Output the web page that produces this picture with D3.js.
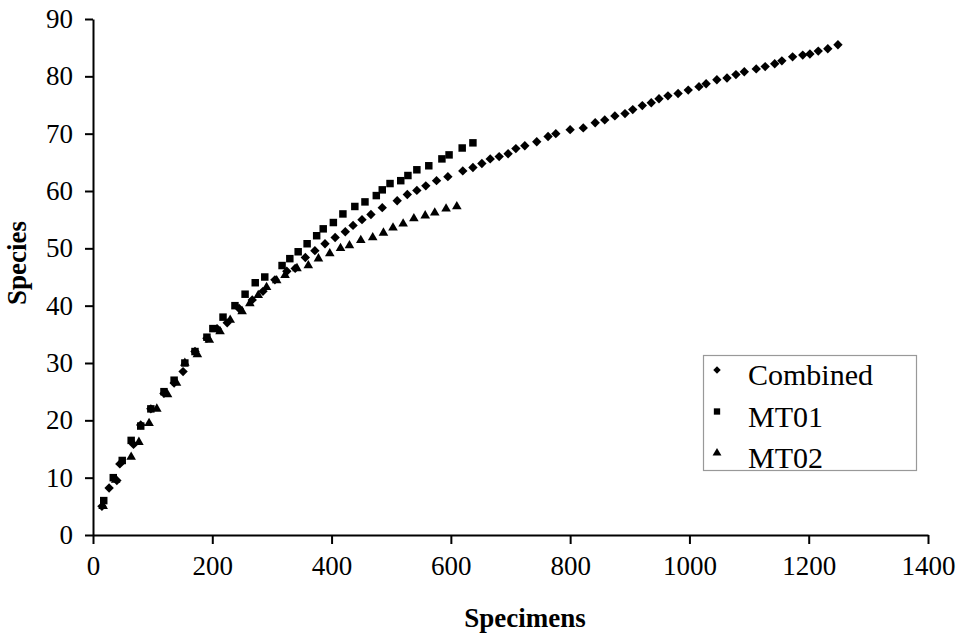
<!DOCTYPE html>
<html>
<head>
<meta charset="utf-8">
<script src="https://cdn.jsdelivr.net/npm/d3@7"></script>
<style>
  body { margin: 0; background: #fff; }
  svg { display: block; }
</style>
</head>
<body>
<svg width="963" height="636"></svg>
<script>
// data: [specimens, species]
let combined = [[15,5],[27,8.2],[40,9.5],[45,12.4],[68,15.8],[80,19.2],[97,22],[119,24.7],[136,26.5],[151,28.5],
  [171,32],[191,34.3],[208,36],[225,37],[245,39.5],[267,41],[285,42.5],[305,44.5],[325,46],[339,46.5],
  [356,48.4],[372,49.6],[389,50.8],[406,51.9],[423,52.9],[436,54],[451,55],[466,55.9],[485,57.1],[510,58.3],
  [527,59.4],[543,60.1],[558,60.9],[576,61.8],[595,62.5],[620,63.5],[637,64.1],[652,64.8],[666,65.6],[681,66],
  [696,66.5],[709,67.4],[724,67.9],[744,68.6],[763,69.5],[776,70],[800,70.7],[822,71],[842,71.9],[858,72.4],
  [875,73.1],[892,73.5],[905,74.2],[921,74.9],[936,75.4],[949,76.1],[964,76.6],[981,77],[998,77.6],[1016,78.2],
  [1028,78.7],[1046,79.4],[1063,79.7],[1078,80.3],[1092,80.8],[1112,81.3],[1127,81.7],[1143,82.2],[1155,82.7],
  [1173,83.4],[1190,83.7],[1202,83.9],[1216,84.4],[1232,84.8],[1249,85.5]];

let mt01 = [[18,6],[34,10],[49,13],[64,16.5],[80,19],[97,22],[119,25],[136,27],[154,30],[171,32],
  [191,34.5],[201,36],[218,38],[238,40],[255,42],[272,44],[288,45],[317,47],[330,48.2],[344,49.4],
  [359,50.8],[375,52.2],[386,53.4],[403,54.5],[419,56],[439,57.3],[456,58.1],[475,59.2],[485,60.2],[498,61.3],
  [516,61.8],[528,62.7],[543,63.7],[563,64.4],[585,65.6],[597,66.3],[619,67.5],[637,68.4]];

let mt02 = [[17,5],[38,9.6],[64,13.6],[77,16.2],[94,19.5],[107,22],[125,24.5],[140,26.5],[154,30],[175,31.5],
  [195,34],[213,35.5],[230,37.5],[250,39],[263,40.4],[277,41.8],[291,43.2],[308,44.4],[322,45.3],[342,46.5],
  [361,47],[378,48.2],[397,49.1],[415,50],[430,50.5],[449,51.4],[469,51.9],[487,52.7],[503,53.6],[520,54.3],
  [538,55.2],[557,55.7],[573,56.2],[592,56.9],[610,57.3]];

let xTicks = [0, 200, 400, 600, 800, 1000, 1200, 1400];
let yTicks = [0, 10, 20, 30, 40, 50, 60, 70, 80, 90];
let seriesNames = ["Combined", "MT01", "MT02"];

const serif = "'Liberation Serif', 'Tinos', 'Times New Roman', 'DejaVu Serif', serif";

let svg = d3.select("svg");

let x = d3.scaleLinear().domain([0, 1400]).range([93, 928]);
let y = d3.scaleLinear().domain([0, 90]).range([535, 19]);

let xAxis = svg.append("g")
    .attr("transform", "translate(0, 535)")
    .call(d3.axisBottom(x).tickValues(xTicks).tickSize(9).tickSizeOuter(0).tickPadding(12).tickFormat(d3.format("d")));

let yAxis = svg.append("g")
    .attr("transform", "translate(93, 0)")
    .call(d3.axisLeft(y).tickValues(yTicks).tickSize(8).tickSizeOuter(0).tickPadding(12));

[xAxis, yAxis].forEach(g => {
    g.attr("font-family", serif).attr("font-size", 27);
    g.selectAll("text").attr("fill", "#000");
    g.selectAll("path, line").attr("stroke", "#000").attr("stroke-width", 2);
});

svg.append("text")
    .attr("font-family", serif)
    .attr("font-size", 27)
    .attr("font-weight", "bold")
    .attr("text-anchor", "middle")
    .attr("transform", "translate(26, 263) rotate(-90)")
    .text("Species");

svg.append("text")
    .attr("font-family", serif)
    .attr("font-size", 27)
    .attr("font-weight", "bold")
    .attr("text-anchor", "middle")
    .attr("x", 525)
    .attr("y", 627)
    .text("Specimens");

let diamond = d3.symbol().type(d3.symbolSquare).size(44);
let square = d3.symbol().type(d3.symbolSquare).size(56);
let triangle = d3.symbol().type(d3.symbolTriangle).size(40);

function drawSeries(data, sym, rotate) {
    svg.append("g")
        .selectAll("path")
        .data(data)
        .enter()
        .append("path")
        .attr("d", sym)
        .attr("fill", "#000")
        .attr("transform", d => `translate(${x(d[0])}, ${y(d[1])})` + (rotate ? " rotate(45)" : ""));
}

drawSeries(mt02, triangle, false);
drawSeries(mt01, square, false);
drawSeries(combined, diamond, true);

// legend
let legend = svg.append("g")
    .attr("font-family", serif)
    .attr("font-size", 30);

legend.append("rect")
    .attr("x", 703.5).attr("y", 355.5)
    .attr("width", 213).attr("height", 115)
    .attr("fill", "#fff")
    .attr("stroke", "#999")
    .attr("stroke-width", 1.2);

let legendSyms = [
    d3.symbol().type(d3.symbolSquare).size(28),
    d3.symbol().type(d3.symbolSquare).size(40),
    d3.symbol().type(d3.symbolTriangle).size(34)
];

seriesNames.forEach((name, i) => {
    let base = 385 + i * 41.5;
    legend.append("path")
        .attr("d", legendSyms[i])
        .attr("fill", "#000")
        .attr("transform", `translate(717, ${base - 15})` + (i === 0 ? " rotate(45)" : ""));
    legend.append("text")
        .attr("x", 748)
        .attr("y", base)
        .text(name);
});
</script>
</body>
</html>
